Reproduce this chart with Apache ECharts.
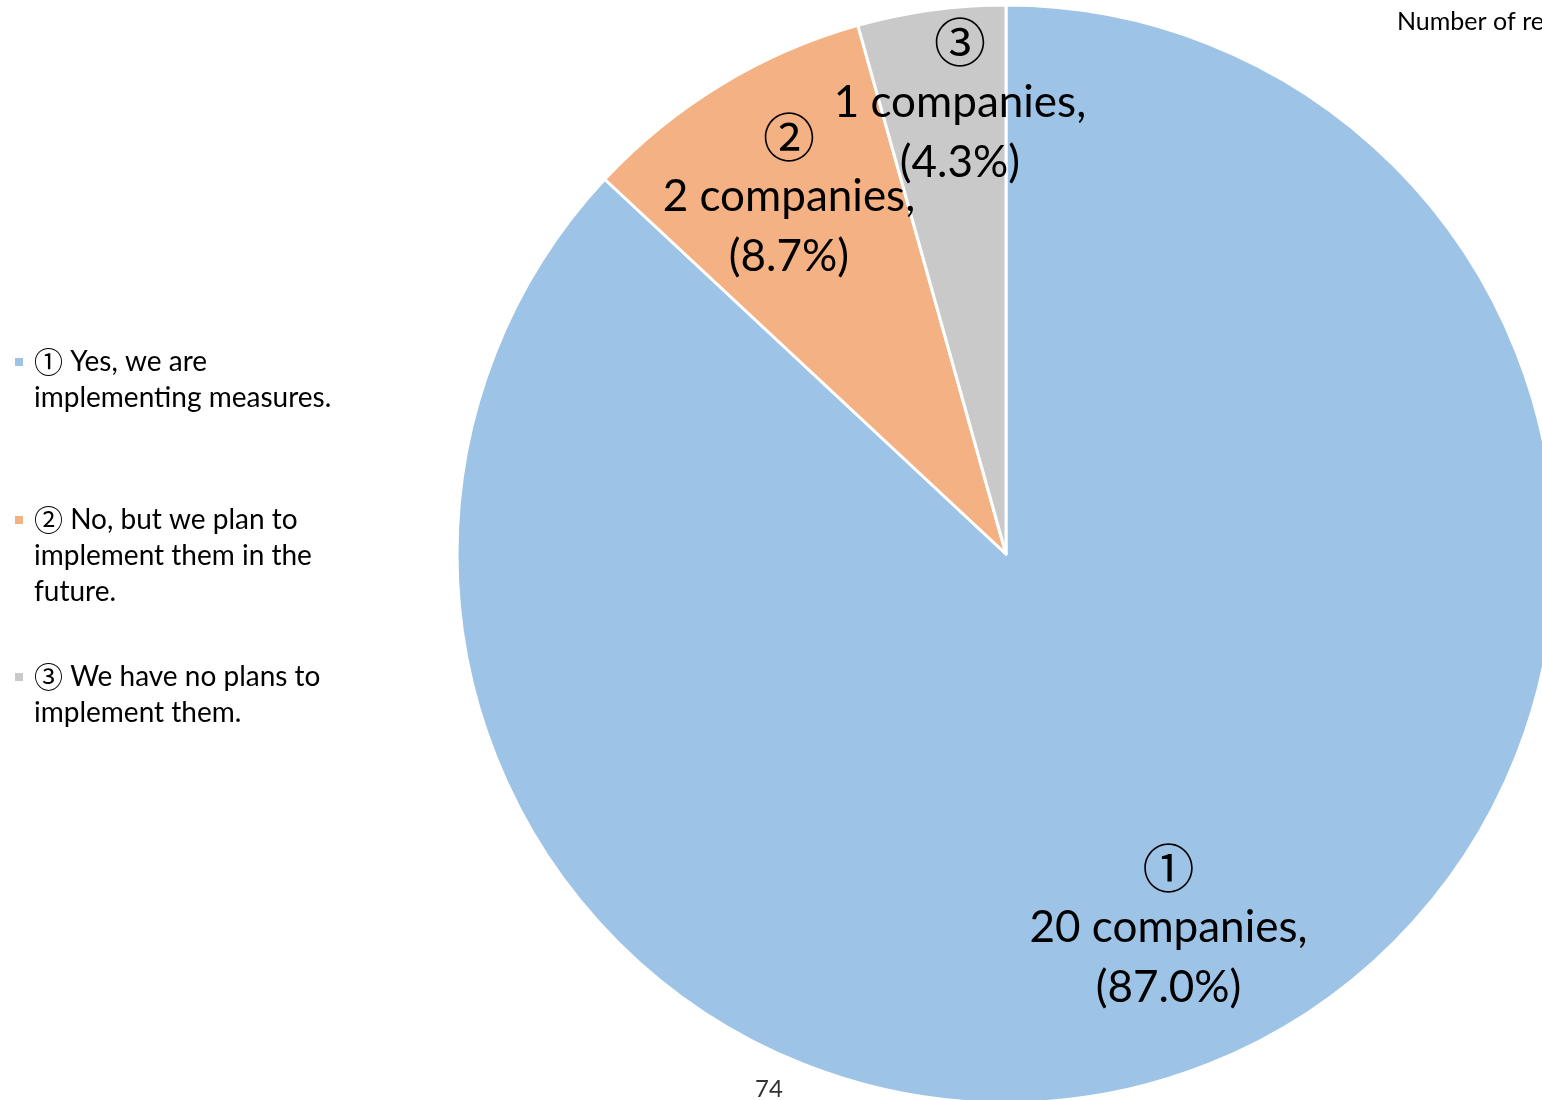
<!DOCTYPE html>
<html>
<head>
<meta charset="utf-8">
<script src="https://cdn.jsdelivr.net/npm/echarts@6/dist/echarts.min.js"></script>
<style>
  html, body { margin: 0; padding: 0; background: #fff; }
  #main { width: 1542px; height: 1100px; }
</style>
</head>
<body>
<div id="main"></div>
<script>
const marks = ["①", "②", "③"];
const categories = [
  "① Yes, we are\nimplementing measures.",
  "② No, but we plan to\nimplement them in the\nfuture.",
  "③ We have no plans to\nimplement them."
];
const companies = [20, 2, 1];
const colors = ["#9DC3E6", "#F4B183", "#C9C9C9"];

const total = companies.reduce((a, b) => a + b, 0);
const cx = 1006, cy = 554, R = 549;
// label placement: share of radius, plus a small angle nudge in degrees
const labelDist = [0.743, 0.761, 0.827];
const labelNudge = [0, 0, 2];
const legendTops = [308, 430, 623];

const chart = echarts.init(document.getElementById("main"));

const font = "Lato, 'Noto Sans', sans-serif";
const markFont = "'Noto Sans CJK JP', 'DejaVu Sans', sans-serif";

const legends = categories.map((name, i) => {
  const lines = name.split("\n").length;
  return {
    orient: "vertical",
    left: 13,
    top: legendTops[i],
    padding: 0,
    itemWidth: 10,
    itemHeight: 10,
    icon: "rect",
    selectedMode: false,
    data: [name],
    // leading blank lines push the first text line level with the icon
    formatter: (n) =>
      "\n".repeat(lines - 1) +
      n.split("\n").map((l, k) => k === 0
        ? "{m|" + l[0] + "}" + l.slice(1)
        : "{t|" + l + "}").join("\n"),
    textStyle: {
      fontFamily: font,
      fontSize: 28,
      lineHeight: 36,
      color: "#000",
      rich: {
        m: { fontFamily: markFont, fontSize: 29, lineHeight: 36, color: "#000", padding: [0, 0, 0, 5] },
        t: { fontFamily: font, fontSize: 28, lineHeight: 36, color: "#000", padding: [0, 0, 0, 5] }
      }
    }
  };
});

function midAngle(i) {
  let before = 0;
  for (let k = 0; k < i; k++) before += companies[k];
  return ((before + companies[i] / 2) / total) * Math.PI * 2 + labelNudge[i] * Math.PI / 180;
}

const options = {
  animation: false,
  backgroundColor: "#fff",
  color: colors,
  title: [
    {
      text: "Number of respondents: 23 companies",
      left: 1397,
      top: 9,
      padding: 0,
      textStyle: { fontFamily: font, fontSize: 25, fontWeight: "normal", color: "#000" }
    },
    {
      text: "74",
      left: 755,
      top: 1077,
      padding: 0,
      textStyle: { fontFamily: font, fontSize: 24, fontWeight: "normal", color: "#333" }
    }
  ],
  legend: legends,
  series: [
    {
      type: "pie",
      center: [cx, cy],
      radius: R,
      startAngle: 90,
      clockwise: true,
      silent: true,
      itemStyle: { borderColor: "#fff", borderWidth: 3 },
      label: {
        show: true,
        position: "inside",
        fontFamily: font,
        fontSize: 44,
        lineHeight: 60,
        color: "#000",
        formatter: (p) =>
          "{m|" + marks[p.dataIndex] + "}\n" + p.value + " companies,\n(" +
          ((p.value / total) * 100).toFixed(1) + "%)",
        rich: {
          m: { fontFamily: markFont, fontSize: 52, lineHeight: 60, color: "#000" }
        }
      },
      labelLayout: (p) => {
        const a = midAngle(p.dataIndex);
        const r = R * labelDist[p.dataIndex];
        return {
          x: cx + Math.sin(a) * r,
          y: cy - Math.cos(a) * r,
          align: "center",
          verticalAlign: "middle"
        };
      },
      data: categories.map((name, i) => ({ name: name, value: companies[i] }))
    }
  ]
};

chart.setOption(options);
</script>
</body>
</html>
